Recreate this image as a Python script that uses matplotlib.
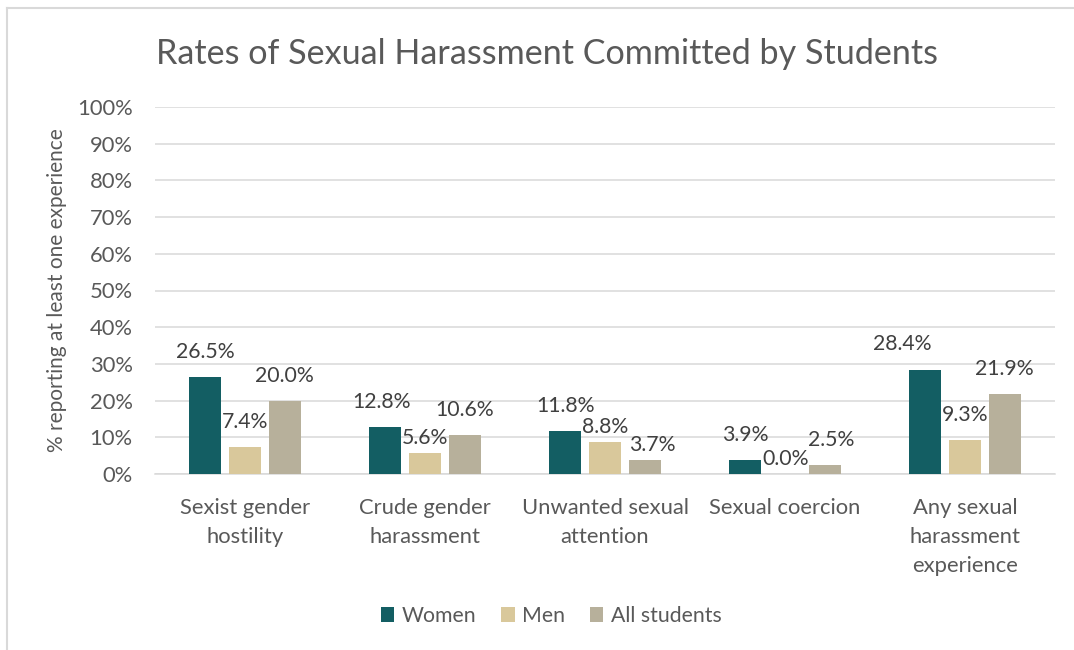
import matplotlib
matplotlib.use("Agg")
import matplotlib.pyplot as plt
from matplotlib.lines import Line2D
from matplotlib.patches import Patch
import numpy as np

W, H = 1074, 650
TEXT = "#595959"
GRID = "#D9D9D9"
FONT = "Lato"

categories = ["Sexist gender\nhostility", "Crude gender\nharassment",
              "Unwanted sexual\nattention", "Sexual coercion",
              "Any sexual\nharassment\nexperience"]
women = [26.5, 12.8, 11.8, 3.9, 28.4]
men = [7.4, 5.6, 8.8, 0.0, 9.3]
all_students = [20.0, 10.6, 3.7, 2.5, 21.9]
series_names = ["Women", "Men", "All students"]
colors = ["#135E63", "#D9C89B", "#B7B09B"]

# label nudges in pixels (dx, dy above bar top), as placed in the original
nudges = {
    (1, 0): (-4, 25),
    (1, 1): (0, 15),
    (2, 1): (0, 15),
    (2, 2): (8, 15),
    (3, 1): (1, 15),
    (3, 2): (7, 25),
    (4, 0): (-23, 26),
}

plt.rcParams["font.family"] = [FONT, "DejaVu Sans"]

fig = plt.figure(figsize=(W / 100, H / 100), dpi=100)
ax = fig.add_axes([155 / W, (H - 474) / H, 900 / W, (474 - 107) / H])

x = np.arange(len(categories))
bw = 0.178
step = 0.22
for si, (vals, col) in enumerate(zip([women, men, all_students], colors)):
    xs = x + (si - 1) * step
    ax.bar(xs, vals, width=bw, color=col, zorder=3)
    for ci, v in enumerate(vals):
        dx, dy = nudges.get((ci, si), (0, 25))
        ax.annotate(f"{v:.1f}%", (xs[ci], v), xytext=(dx, dy),
                    textcoords="offset pixels", ha="center", va="center",
                    fontsize=15.3, color="#404040")

ax.set_xlim(-0.5, len(categories) - 0.5)
ax.set_ylim(0, 100)
ax.set_yticks(range(0, 101, 10))
ax.set_yticklabels([f"{t}%" for t in range(0, 101, 10)])
ax.yaxis.grid(True, color=GRID, linewidth=1.1, zorder=0)
ax.set_xticks(x)
ax.set_xticklabels(categories, linespacing=1.57, va="top")
ax.tick_params(axis="both", length=0, labelsize=15.8, colors=TEXT)
ax.tick_params(axis="y", pad=16)
ax.tick_params(axis="x", pad=17)
for side in ["top", "right", "left"]:
    ax.spines[side].set_visible(False)
ax.spines["bottom"].set_color(GRID)
ax.spines["bottom"].set_linewidth(1.1)

fig.text(57.5 / W, 1 - 290 / H, "% reporting at least one experience",
         rotation=90, ha="center", va="center", fontsize=15, color=TEXT)

fig.text(547 / W, 1 - 54 / H, "Rates of Sexual Harassment Committed by Students",
         ha="center", va="center", fontsize=24.6, color=TEXT)

handles = [Patch(facecolor=c, edgecolor="none") for c in colors]
fig.legend(handles, series_names, loc="center", ncol=3,
           bbox_to_anchor=(551 / W, 1 - 616 / H), frameon=False,
           fontsize=15.3, handlelength=0.65, handleheight=0.65,
           handletextpad=0.35, columnspacing=1.15, labelcolor=TEXT)

# chart border (top and left visible)
fig.add_artist(Line2D([7.5 / W, 1.0], [1 - 8 / H, 1 - 8 / H], color=GRID,
                      linewidth=1.5, transform=fig.transFigure))
fig.add_artist(Line2D([7.5 / W, 7.5 / W], [0, 1 - 8 / H], color=GRID,
                      linewidth=1.5, transform=fig.transFigure))

fig.savefig("out.png", dpi=100)
